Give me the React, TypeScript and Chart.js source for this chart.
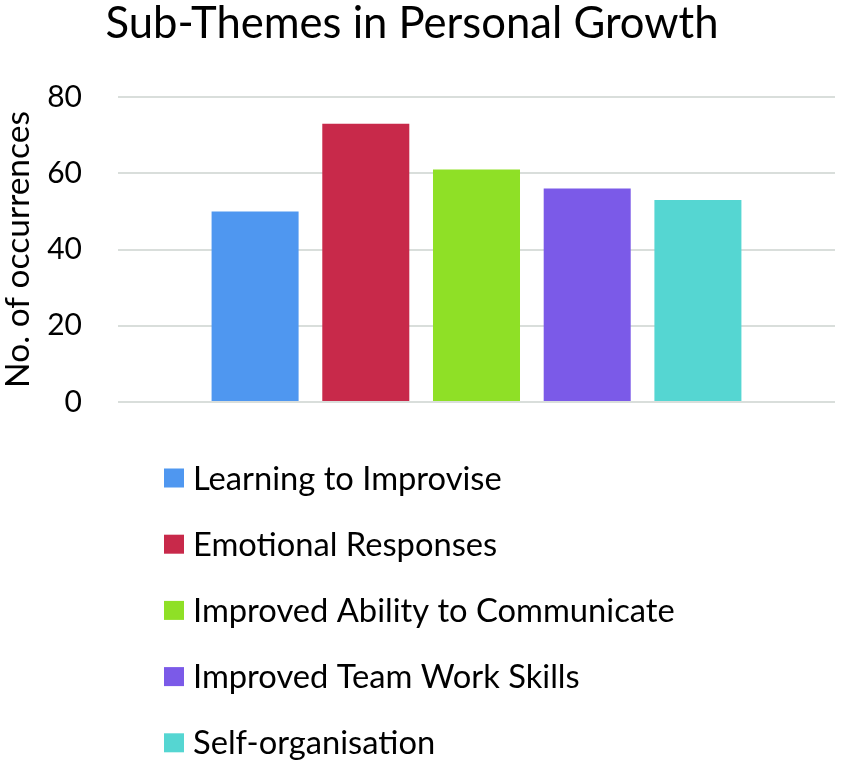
import React, { useEffect, useRef } from "react";
import { Chart, registerables } from "chart.js";

Chart.register(...registerables);

const chartTitle = "Sub-Themes in Personal Growth";
const yAxisTitle = "No. of occurrences";
const categories = [""];
const seriesNames = [
  "Learning to Improvise",
  "Emotional Responses",
  "Improved Ability to Communicate",
  "Improved Team Work Skills",
  "Self-organisation",
];
const seriesValues = [50, 73, 61, 56, 53];
const seriesColors = ["#4F97F0", "#C8294A", "#8FE026", "#7B5AE8", "#55D6D2"];
const yTicks = [0, 20, 40, 60, 80];

const FONT = "Lato, 'Open Sans', sans-serif";

const overlayPlugin = {
  id: "overlay",
  afterDraw(chart: any) {
    const ctx = chart.ctx;
    ctx.save();
    // title
    ctx.fillStyle = "#000";
    ctx.font = `43.6px ${FONT}`;
    ctx.textAlign = "center";
    ctx.textBaseline = "alphabetic";
    ctx.fillText(chartTitle, 412, 38);
    // legend
    const startY = chart.chartArea.bottom + 76;
    const step = 66.2;
    ctx.font = `32.7px ${FONT}`;
    ctx.textAlign = "left";
    ctx.textBaseline = "middle";
    chart.data.datasets.forEach((ds: any, i: number) => {
      const cy = startY + i * step;
      ctx.fillStyle = ds.backgroundColor;
      ctx.fillRect(164, cy - 9.5, 20, 19);
      ctx.fillStyle = "#000";
      ctx.fillText(ds.label, 193, cy + 1);
    });
    ctx.restore();
  },
};

export default function App() {
  const ref = useRef<HTMLCanvasElement | null>(null);
  useEffect(() => {
    if (!ref.current) return;
    const chart = new Chart(ref.current, {
      type: "bar",
      data: {
        labels: categories,
        datasets: seriesNames.map((name, i) => ({
          label: name,
          data: [seriesValues[i]],
          backgroundColor: seriesColors[i],
          borderWidth: 0,
        })),
      },
      options: {
        animation: false,
        responsive: false,
        devicePixelRatio: 1,
        layout: { padding: { left: 0, right: 6, top: 97, bottom: 360 } },
        datasets: {
          bar: { categoryPercentage: 0.772, barPercentage: 0.786 },
        },
        plugins: {
          legend: { display: false },
          title: { display: false },
          tooltip: { enabled: false },
        },
        scales: {
          x: { display: false },
          y: {
            min: 0,
            max: 80,
            afterBuildTicks: (scale: any) => {
              scale.ticks = yTicks.map((v) => ({ value: v }));
            },
            afterFit: (scale: any) => {
              scale.width = 118;
            },
            border: { display: false },
            grid: { color: "#D9DEDB", lineWidth: 2, drawTicks: false },
            ticks: {
              padding: 36,
              color: "#000",
              font: { family: FONT, size: 30 },
            },
            title: {
              display: true,
              text: yAxisTitle,
              color: "#000",
              font: { family: FONT, size: 33.5, lineHeight: 1.1 },
              padding: { top: 0, bottom: 0 },
            },
          },
        },
      },
      plugins: [overlayPlugin],
    });
    return () => chart.destroy();
  }, []);
  return (
    <div style={{ position: "fixed", left: 0, top: 0, width: 841, height: 762, background: "#fff" }}>
      <canvas ref={ref} width={841} height={762} style={{ display: "block" }} />
    </div>
  );
}
